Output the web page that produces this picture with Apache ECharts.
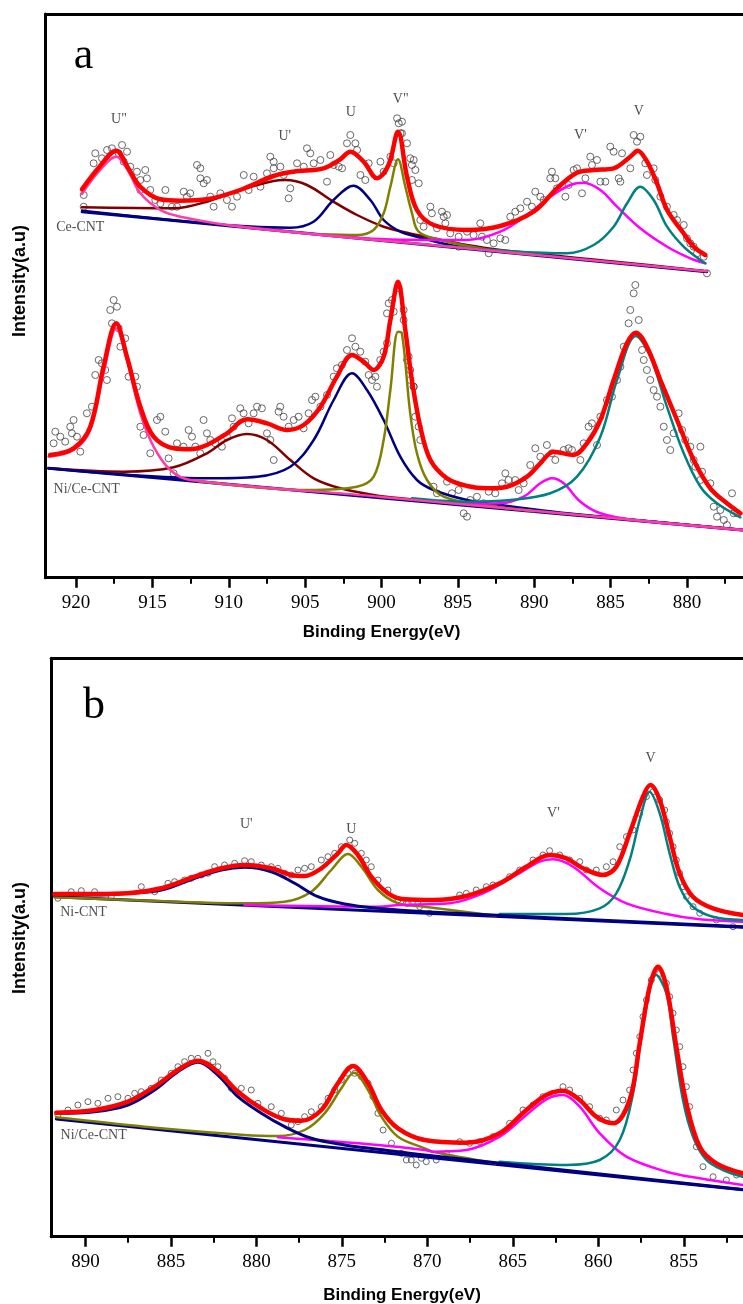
<!DOCTYPE html>
<html><head><meta charset="utf-8">
<script src="https://cdn.jsdelivr.net/npm/echarts@6/dist/echarts.min.js"></script>
<style>html,body{margin:0;padding:0;background:#fff}#c{width:743px;height:1304px}</style>
</head><body><div id="c"></div>
<script>
// ---------- tick labels ----------
const ticksA = [920, 915, 910, 905, 900, 895, 890, 885, 880];
const minorTicksA = [917.5, 912.5, 907.5, 902.5, 897.5, 892.5, 887.5, 882.5, 877.5];
const ticksB = [890, 885, 880, 875, 870, 865, 860, 855];
const minorTicksB = [887.5, 882.5, 877.5, 872.5, 867.5, 862.5, 857.5, 852.5];

// ---------- panel a : Ce-CNT (Ce 3d) ----------
const aCePts = [[919.50,382.7],[919.50,371.0],[918.74,424.4],[918.85,414.4],[918.30,419.4],[917.97,427.7],[917.65,429.4],[916.99,432.7],[917.21,424.4],[916.66,426.0],[916.88,416.0],[916.45,411.0],[916.01,406.0],[915.79,397.7],[915.47,407.7],[915.36,399.4],[915.79,387.7],[915.14,387.7],[914.81,377.7],[914.48,374.4],[914.15,387.7],[913.72,371.0],[913.39,371.0],[912.95,386.0],[912.74,381.0],[912.52,384.4],[912.08,412.7],[911.86,409.4],[911.86,399.4],[911.64,394.4],[911.43,397.7],[911.21,381.0],[910.99,371.0],[910.55,384.4],[910.12,377.7],[909.79,371.0],[909.46,381.0],[909.02,402.7],[908.70,387.7],[908.37,401.0],[907.93,391.0],[907.50,404.4],[907.28,421.0],[907.06,416.0],[907.06,409.4],[906.62,411.0],[906.40,402.7],[906.08,379.4],[905.97,389.4],[905.53,414.4],[905.09,411.0],[904.88,429.4],[904.66,424.4],[904.44,414.4],[904.00,417.7],[903.57,396.0],[903.35,422.7],[903.13,412.7],[902.80,411.0],[902.58,409.4],[902.26,434.4],[902.04,442.7],[901.71,434.4],[901.60,427.7],[901.38,402.7],[901.06,397.7],[900.84,414.4],[900.07,416.0],[899.86,406.0],[899.42,421.0],[899.20,414.4],[898.98,459.4],[898.87,454.4],[898.76,444.4],[898.33,434.4],[897.89,417.7],[897.78,407.7],[897.56,394.4],
[898.66,456.0],[898.66,444.4],[898.12,419.4],[898.01,412.7],[898.01,397.7],[897.46,357.7],[897.24,351.0],[896.80,371.0],[896.70,364.4],[896.37,349.4],[896.04,366.0],[895.93,361.0],[895.71,362.7],[895.82,354.4],[895.50,344.4],[894.95,341.0],[894.95,331.0],[894.40,346.0],[893.97,342.7],[893.53,354.4],[893.42,341.0],[893.10,337.7],[892.98,324.4],[892.66,334.4],[892.22,339.4],[891.89,337.7],[891.57,361.0],[891.24,366.0],[890.91,369.4],[890.47,376.0],[890.15,371.0],[889.93,386.0],[889.60,381.0],[889.38,377.7],[888.95,399.4],[888.84,406.0],[888.62,399.4],[888.51,389.4],[887.96,381.0],[887.75,392.7],[887.42,407.7],[887.20,409.4],[886.87,384.4],[886.65,399.4],[886.33,421.0],[886.22,412.7],[885.89,417.7],[885.67,396.0],[885.34,396.0],[885.02,431.0],[884.80,426.0],[884.47,399.4],[884.36,396.0],[884.25,424.4],[883.71,409.4],[883.49,442.7],[883.27,436.0],[883.05,441.0],[882.73,414.4],[882.62,402.7],[882.18,409.4],[882.07,397.7],[881.74,381.0],[881.31,371.0],[880.87,362.7],[880.65,357.7],[880.21,352.7],[880.00,339.4],[879.78,334.4],[879.56,331.0],[879.34,324.4],[878.90,321.0],[878.69,304.4]];
const aCeFit = [[919.61,388.4],[918.52,410.0],[917.37,427.0],[916.60,410.0],[915.80,391.0],[914.49,378.4],[913.18,377.0],[911.43,378.4],[909.25,387.7],[907.07,401.7],[905.76,406.0],[903.79,409.4],[902.70,418.4],[902.04,426.0],[901.17,416.0],[900.29,399.4],[899.54,412.7],[898.92,446.0],[898.33,401.0],[897.68,367.7],[896.59,352.7],[894.40,347.7],[892.22,351.7],[890.04,366.0],[888.51,389.4],[887.20,405.0],[886.11,407.7],[884.80,409.4],[883.71,421.0],[883.23,427.0],[882.61,416.0],[881.96,394.4],[881.30,367.7],[880.22,344.4],[879.56,331.0],[878.80,322.7]];
const aCeBase = [[919.6,366.0],[878.7,306.0]];
const aCeU2 = [[919.61,383.7],[918.52,406.0],[917.37,421.0],[916.56,406.0],[915.79,384.4],[914.48,367.7],[913.17,361.0],[909.24,351.0],[895.0,330.2],[878.7,306.5]];
const aCeU1 = [[919.61,370.4],[913.61,369.4],[911.43,376.0],[909.25,387.7],[907.07,396.7],[906.30,397.7],[904.88,392.7],[903.14,376.0],[901.60,362.7],[899.86,351.0],[898.33,345.0],[896.59,339.4],[894.40,332.7],[892.22,327.7],[885.0,316.5],[878.69,306.5]];
const aCeU = [[919.6,367.0],[910.0,352.5],[905.98,350.0],[904.45,356.0],[903.14,377.7],[901.83,392.0],[900.73,377.7],[899.86,357.7],[898.77,346.0],[897.68,341.0],[895.50,332.7],[892.22,326.7],[878.7,306.3]];
const aCeV2 = [[904.0,343.5],[901.60,342.7],[900.52,347.7],[899.86,364.4],[899.42,391.0],[898.92,418.4],[898.44,391.0],[898.00,364.4],[897.57,346.0],[896.15,337.7],[893.0,328.0],[890.0,323.0]];
const aCeV1 = [[910.0,352.8],[898.77,338.0],[894.40,337.7],[892.22,346.0],[890.47,362.7],[888.95,381.0],[887.64,392.7],[886.77,395.0],[885.67,387.7],[884.58,371.0],[883.06,349.4],[881.30,331.0],[879.78,319.4],[878.80,314.4]];
const aCeV = [[896.0,332.0],[891.5,326.5],[887.85,324.4],[886.11,332.7],[884.80,351.0],[883.92,374.4],[883.06,391.0],[882.18,377.7],[881.30,351.0],[880.22,331.0],[879.13,317.7],[878.80,314.4]];

// ---------- panel a : Ni/Ce-CNT (Ce 3d) ----------
const aNiPts = [[921.36,146.0],[921.47,134.4],[921.03,141.0],[920.71,136.0],[920.38,151.0],[920.16,157.7],[920.27,144.4],[919.94,141.0],[919.72,126.0],[919.29,164.4],[918.96,171.0],[918.74,202.7],[918.52,217.7],[918.31,214.4],[918.09,207.7],[917.98,197.7],[917.76,267.7],[917.54,277.7],[917.32,271.0],[917.65,254.4],[917.21,249.4],[917.10,231.0],[916.78,239.4],[916.56,201.0],[916.12,201.0],[916.01,191.0],[915.79,151.0],[915.58,142.7],[915.14,124.4],[914.70,157.7],[914.48,161.0],[914.16,146.0],[913.94,119.4],[913.61,104.4],[913.39,134.4],[912.96,131.0],[912.63,147.7],[912.41,141.0],[912.19,131.0],[911.87,124.4],[911.65,157.7],[911.43,144.4],[911.21,137.7],[910.88,134.4],[910.45,131.0],[910.12,141.0],[909.79,159.4],[909.68,151.0],[909.25,169.4],[909.03,164.4],[908.70,154.4],[908.37,164.4],[908.15,171.0],[907.83,169.4],[907.50,144.4],[907.28,137.7],[907.06,117.7],[906.74,166.0],[906.63,171.0],[906.41,161.0],[906.08,151.0],[905.75,157.7],[905.43,161.0],[905.10,149.4],[904.77,164.4],[904.55,177.7],[904.33,181.0],[904.00,171.0],[903.57,182.7],[903.13,201.0],[902.92,209.4],[902.59,212.7],[902.26,227.7],[901.93,239.4],[901.71,231.0],[901.39,226.0],[901.06,216.0],[900.84,202.7],[900.62,197.7],[900.40,201.0],[900.30,191.0],[900.08,217.7],[899.86,226.0],[899.64,234.4],[899.64,264.4],[899.53,274.4],[899.31,277.7],[899.20,266.0],[898.88,289.4],[898.55,257.7],[898.33,217.7],[898.11,197.7],[897.89,191.0],
[898.55,267.7],[898.22,221.0],[898.12,207.7],[897.90,191.0],[897.79,161.0],[897.57,151.0],[897.46,137.7],[896.59,91.0],[896.37,84.4],[895.71,96.0],[895.39,84.4],[894.95,87.7],[894.62,64.4],[894.40,61.0],[894.19,77.7],[893.75,81.0],[893.31,74.4],[892.98,86.0],[892.55,84.4],[892.11,94.4],[891.89,104.4],[891.68,97.7],[891.24,97.7],[891.02,87.7],[890.69,94.4],[890.26,112.7],[889.93,129.4],[889.60,121.0],[889.17,132.7],[888.84,124.4],[888.62,117.7],[888.07,127.7],[887.75,129.4],[887.53,127.7],[886.98,117.7],[886.76,134.4],[886.44,151.0],[886.22,154.4],[885.89,132.7],[885.67,161.0],[885.24,177.7],[884.91,181.0],[884.58,197.7],[884.36,211.0],[884.14,231.0],[883.82,254.4],[883.71,267.7],[883.49,284.4],[883.38,292.7],[883.16,257.7],[882.94,227.7],[882.83,217.7],[882.62,207.7],[882.40,197.7],[882.18,187.7],[881.96,181.0],[881.74,171.0],[881.52,151.0],[881.31,137.7],[881.09,127.7],[880.87,144.4],[880.54,164.4],[880.32,147.7],[880.11,137.7],[879.78,131.0],[879.56,117.7],[879.12,131.0],[879.01,106.0],[879.45,111.0],[879.12,97.7],[878.47,94.4],[878.25,71.0],[878.03,61.0],[877.81,67.7],[877.59,57.7],[877.38,52.7],[877.05,84.4],[876.94,64.4],[876.72,64.4]];
const aNiFit = [[921.70,122.7],[920.16,129.4],[919.07,151.0],[918.20,211.0],[917.37,254.4],[916.67,221.0],[915.79,171.0],[914.92,141.0],[913.61,129.4],[912.52,128.4],[911.43,132.7],[910.12,144.4],[908.81,158.4],[907.50,154.4],[906.19,147.7],[905.10,152.7],[903.99,171.0],[902.92,201.0],[901.93,222.7],[901.17,216.0],[900.51,207.7],[899.86,221.0],[899.42,257.7],[898.92,296.0],[898.44,247.7],[898.01,197.7],[897.46,151.0],[896.80,117.7],[895.71,99.4],[894.40,91.7],[893.09,89.4],[891.78,91.0],[890.47,101.0],[889.60,114.4],[888.73,126.0],[887.42,122.7],[886.55,134.4],[885.67,157.7],[884.80,197.7],[883.93,234.4],[883.34,245.0],[882.62,231.0],[881.74,197.7],[880.65,157.7],[879.56,117.7],[878.47,89.4],[877.38,74.4],[876.50,64.4]];
const aNiBase = [[921.8,109.4],[876.4,47.7]];
const aNiU2 = [[921.80,121.0],[920.16,127.7],[919.07,147.7],[918.20,204.4],[917.37,249.4],[916.67,217.7],[915.79,164.4],[914.92,131.0],[913.83,107.7],[912.52,97.7],[900.0,80.8],[876.4,47.7]];
const aNiU1 = [[921.80,109.4],[916.89,106.0],[913.61,110.4],[911.43,124.4],[910.12,137.7],[908.81,143.7],[907.50,137.7],[905.97,117.7],[904.44,99.4],[902.69,89.4],[900.51,82.7],[898.77,79.4],[876.4,48.0]];
const aNiU = [[921.80,109.4],[911.43,99.4],[908.15,101.0],[905.97,111.0],[904.44,137.7],[903.13,177.7],[901.93,204.4],[900.95,187.7],[899.86,157.7],[898.77,121.0],[897.68,97.7],[896.59,87.7],[894.40,77.7],[892.22,72.7],[887.86,64.4],[876.4,47.7]];
const aNiV2 = [[912.0,96.5],[904.88,87.7],[901.61,91.0],[900.51,101.0],[899.86,137.7],[899.42,187.7],[898.92,246.0],[898.66,244.4],[898.12,164.4],[897.68,124.4],[897.02,97.7],[895.93,81.0],[893.31,72.7],[890.0,66.5]];
const aNiV1 = [[895.0,74.0],[892.22,74.4],[890.69,81.0],[889.60,94.4],[888.84,99.4],[888.07,94.4],[886.98,76.0],[885.67,64.4],[883.49,57.7],[876.4,48.0]];
const aNiV = [[898.0,79.5],[894.40,76.0],[891.57,77.7],[888.95,84.4],[887.20,101.0],[885.67,141.0],[884.58,197.7],[883.34,241.7],[882.40,221.0],[881.31,171.0],[880.21,124.4],[879.12,91.0],[878.03,74.4],[876.50,60.4]];

// ---------- panel b : Ni-CNT (Ni 2p) ----------
const bNiPts = [[891.61,338.4],[890.83,345.0],[890.24,346.0],[889.46,345.0],[888.49,340.0],[886.73,350.0],[885.95,345.0],[885.17,353.4],[884.78,355.0],[884.20,356.7],[883.81,358.4],[883.22,361.7],[882.83,363.4],[882.44,370.0],[881.86,371.7],[881.27,373.4],[880.69,376.0],[880.30,375.0],[879.71,371.7],[879.13,370.0],[878.74,368.4],[878.35,363.4],[877.96,361.7],[877.57,366.7],[877.18,368.4],[876.79,370.0],[876.20,376.7],[875.81,380.0],[875.42,383.4],[875.03,390.0],[874.54,396.7],[874.25,393.4],[873.86,383.4],[873.57,376.7],[873.28,370.0],[872.89,356.7],[872.30,346.7],[871.72,336.7],[871.13,333.4],[870.55,333.4],
[871.23,333.4],[870.45,330.0],[869.87,323.4],[868.11,341.7],[867.72,343.4],[867.14,346.7],[866.55,350.0],[866.16,351.7],[865.19,360.0],[864.60,366.7],[863.82,376.7],[863.24,381.7],[862.85,386.0],[862.26,381.7],[861.68,376.7],[861.09,375.0],[860.70,366.7],[860.12,366.7],[859.53,370.0],[859.14,375.0],[858.75,390.0],[858.36,400.0],[857.97,406.7],[857.58,423.4],[857.19,440.0],[856.80,445.0],[856.41,436.7],[856.12,426.7],[856.02,415.0],[855.83,403.4],[855.63,390.0],[855.44,376.7],[855.24,363.4],[855.05,350.0],[854.85,340.0],[854.46,330.0],[854.07,323.4],[853.10,316.7],[852.12,310.0]];
const bNiFit = [[891.80,342.7],[889.46,342.7],[887.51,343.4],[885.56,348.4],[883.61,360.0],[882.05,368.4],[880.69,371.7],[879.13,368.4],[877.96,361.7],[877.18,360.7],[876.20,368.4],[875.23,383.4],[874.74,391.7],[874.06,381.7],[873.28,360.0],[872.30,343.4],[871.33,337.4],[869.67,336.7],[867.72,340.7],[865.77,353.4],[864.21,370.0],[862.85,381.7],[861.87,378.4],[860.90,368.4],[859.73,361.7],[858.95,370.0],[858.17,403.4],[857.39,440.0],[856.96,451.7],[856.41,436.7],[855.83,400.0],[855.25,363.4],[854.47,340.0],[853.30,328.4],[851.56,321.7]];
const bNiBase = [[891.8,340.0],[851.56,309.5]];
const bNiU1 = [[891.80,341.7],[889.46,341.7],[887.51,343.4],[885.56,346.7],[883.61,358.4],[882.05,366.7],[880.69,369.4],[879.13,365.0],[877.76,353.4],[876.40,340.0],[874.84,332.7],[872.89,328.4],[870.16,325.0],[851.56,310.0]];
const bNiU = [[891.80,339.4],[884.59,335.0],[880.69,333.4],[878.35,335.0],[876.79,345.0],[875.62,366.7],[874.64,382.7],[873.86,370.0],[872.89,346.7],[871.72,333.4],[870.16,330.0],[866.0,321.0]];
const bNiV1 = [[880.69,331.7],[872.89,330.0],[871.62,331.7],[868.70,333.4],[866.75,343.4],[864.80,361.7],[863.43,375.0],[862.65,377.4],[861.48,370.0],[859.92,348.4],[858.36,333.4],[856.02,322.7],[854.07,317.4],[851.56,315.0]];
const bNiV = [[865.77,322.7],[861.87,322.7],[859.92,328.4],[858.95,343.4],[858.17,376.7],[857.58,416.7],[857.00,445.0],[856.41,423.4],[855.83,383.4],[855.25,350.0],[854.47,330.0],[853.30,320.0],[851.56,316.7]];

// ---------- panel b : Ni/Ce-CNT (Ni 2p) ----------
const bCePts = [[891.61,121.7],[891.02,126.7],[890.44,131.7],[889.85,135.0],[889.27,133.4],[888.68,138.4],[888.10,140.0],[887.51,138.4],[887.12,143.4],[886.73,145.0],[886.15,148.4],[885.56,156.7],[884.98,163.4],[884.59,170.0],[884.20,175.0],[883.81,178.4],[883.42,178.4],[882.83,183.4],[882.54,175.0],[882.25,170.0],[881.86,158.4],[881.47,148.4],[880.88,148.4],[880.30,146.7],[879.91,133.4],[879.13,130.0],[878.54,123.4],[877.96,111.7],[877.57,115.0],[877.18,120.0],[876.79,125.0],[876.20,130.0],[875.81,138.4],[875.42,146.7],[875.03,156.7],[874.64,163.4],[874.25,163.4],[873.86,160.0],[873.47,153.4],[873.18,140.0],[872.89,123.4],[872.59,106.7],[872.10,93.4],[871.52,83.4],[870.94,76.7],[870.35,78.4],
[871.23,76.7],[870.65,71.7],[870.06,75.0],[869.48,76.7],[868.89,83.4],[868.11,95.0],[867.53,93.4],[866.94,95.0],[866.16,100.0],[865.19,113.4],[864.41,126.7],[863.82,131.7],[863.24,140.0],[862.65,143.4],[862.07,150.0],[861.68,146.7],[861.09,138.4],[860.51,130.0],[859.92,118.4],[859.53,116.7],[858.95,126.7],[858.56,136.7],[858.17,146.7],[857.97,166.7],[857.78,183.4],[857.58,200.0],[857.39,220.0],[857.19,236.7],[856.90,256.7],[856.41,263.4],[856.02,253.4],[855.83,240.0],[855.63,223.4],[855.44,206.7],[855.24,190.0],[855.05,170.0],[854.85,150.0],[854.66,130.0],[854.27,90.0],[853.88,70.0],[853.29,60.0],[852.51,56.7],[851.92,61.7]];
const bCeFit = [[891.70,124.0],[889.46,126.7],[887.51,135.0],[885.95,150.0],[884.59,166.7],[883.42,176.0],[882.25,165.0],[881.08,145.0],[879.71,128.4],[878.35,117.4],[877.37,116.0],[876.20,126.7],[875.23,153.4],[874.35,170.7],[873.47,153.4],[872.69,126.7],[871.72,108.4],[870.16,96.7],[867.72,94.0],[865.77,103.4],[864.21,126.7],[863.04,141.7],[862.07,146.0],[861.09,136.7],[860.12,120.0],[859.14,113.4],[858.17,136.7],[857.58,193.4],[857.00,250.0],[856.51,270.0],[856.02,250.0],[855.44,190.0],[854.85,133.4],[854.07,90.0],[853.10,73.4],[851.56,63.4]];
const bCeBase = [[891.7,117.7],[851.56,47.0]];
const bCeU1 = [[891.70,123.4],[889.46,125.0],[887.51,131.7],[885.95,146.7],[884.59,165.0],[883.42,174.4],[882.25,161.7],[881.08,140.0],[879.71,123.4],[878.35,110.0],[876.79,98.4],[874.84,91.7],[872.89,87.4],[870.16,81.7],[851.56,47.3]];
const bCeU = [[891.70,119.4],[886.54,110.0],[880.69,101.7],[878.74,100.7],[877.18,106.7],[876.01,123.4],[875.03,148.4],[874.29,164.0],[873.47,146.7],[872.69,120.0],[871.72,100.0],[870.16,88.4],[869.67,85.0],[866.0,73.5]];
const bCeV1 = [[878.74,99.4],[872.89,91.7],[870.16,86.7],[869.67,85.0],[867.72,86.7],[865.77,100.0],[864.21,121.7],[863.04,137.4],[862.07,141.7],[861.09,130.0],[859.92,103.4],[858.36,80.0],[856.02,65.0],[854.07,58.4],[851.56,51.7]];
const bCeV = [[865.77,75.0],[861.87,71.7],[859.92,76.7],[858.75,96.7],[857.97,143.4],[857.39,210.0],[856.61,261.7],[856.02,243.4],[855.63,200.0],[855.05,136.7],[854.46,100.0],[853.68,76.7],[852.71,66.7],[851.56,60.0]];

// ---------- annotations (text + anchor in data units) ----------
const peakNamesA = ['U"', "U'", 'U', 'V"', "V'", 'V'];
const peakAnchorsA = [[917.19,458.7],[906.33,441.7],[902.01,465.7],[898.74,478.2],[886.98,442.7],[883.16,466.4]];
const sampleNamesA = ['Ce-CNT', 'Ni/Ce-CNT'];
const sampleAnchorsA = [[921.30,350.7],[921.47,88.2]];
const peakNamesB = ["U'", 'U', "V'", 'V'];
const peakAnchorsB = [[880.59,412.7],[874.45,407.7],[862.63,423.4],[856.94,478.4]];
const sampleNamesB = ['Ni-CNT', 'Ni/Ce-CNT'];
const sampleAnchorsB = [[891.47,324.2],[891.45,101.7]];

// ---------- styling ----------
const SERIF = "'Liberation Serif','Times New Roman',serif";
const SANS = "'Liberation Sans',Arial,sans-serif";
const C = { fit:'#ff0000', pink:'#ff3ca8', maroon:'#800000', navy:'#000080', olive:'#808000', magenta:'#ff00ff', teal:'#008080', base:'#000080' };
const FRAME = { show:true, onZero:false, lineStyle:{ color:'#000', width:3 } };

function line(data, axis, color, width, z) {
  return { type:'line', xAxisIndex:axis, yAxisIndex:axis, data, showSymbol:false, symbol:'none',
    smooth:0.35, lineStyle:{ color, width, cap:'round', join:'round' }, z, silent:true, animation:false };
}
function pts(data, axis, size) {
  return { type:'scatter', xAxisIndex:axis, yAxisIndex:axis, data, symbol:'circle', symbolSize:size,
    itemStyle:{ color:'rgba(0,0,0,0)', borderColor:'#444', borderWidth:1 }, z:1, silent:true, animation:false };
}
function labels(names, anchors, axis, pos, fs) {
  return { type:'scatter', xAxisIndex:axis, yAxisIndex:axis, symbolSize:0, silent:true, animation:false, z:20,
    data: names.map((n,i)=>({ name:n, value:anchors[i] })),
    label:{ show:true, position:pos, distance:0, formatter:p=>p.name, fontFamily:SERIF, fontSize:fs, color:'#222' } };
}
function xMain(grid, min, max, ticks) {
  return { type:'value', gridIndex:grid, min, max, inverse:true, position:'bottom',
    axisLine:FRAME, splitLine:{ show:false },
    axisTick:{ show:true, customValues:ticks, length:10, lineStyle:{ color:'#000', width:2.5 } },
    axisLabel:{ show:true, customValues:ticks, margin:16, fontFamily:SERIF, fontSize:19, color:'#000' } };
}
function xMinor(grid, min, max, ticks) {
  return { type:'value', gridIndex:grid, min, max, inverse:true, position:'bottom',
    axisLine:{ show:false }, splitLine:{ show:false },
    axisTick:{ show:true, customValues:ticks, length:6, lineStyle:{ color:'#000', width:2 } },
    axisLabel:{ show:false } };
}
function xTop(grid, min, max) {
  return { type:'value', gridIndex:grid, min, max, inverse:true, position:'top',
    axisLine:FRAME, axisTick:{ show:false }, axisLabel:{ show:false }, splitLine:{ show:false } };
}
function yAx(grid, max, frame) {
  return { type:'value', gridIndex:grid, min:0, max, show:true, position:'left',
    axisLine: frame ? FRAME : { show:false }, axisTick:{ show:false }, axisLabel:{ show:false }, splitLine:{ show:false } };
}

// plot rectangles; right edge of each frame is the page edge
const gA = { left:45.5, top:14, right:0, height:563.7 };
const gB = { left:51.2, top:658.3, right:0, height:578.4 };
const xRangeA = [876.33, 922];
const xRangeB = [851.54, 892];

const option = {
  animation:false,
  backgroundColor:'#fff',
  grid:[ Object.assign({ show:false }, gA), Object.assign({ show:false }, gA), Object.assign({ show:false }, gB), Object.assign({ show:false }, gB) ],
  xAxis:[ xMain(0,xRangeA[0],xRangeA[1],ticksA), xMinor(1,xRangeA[0],xRangeA[1],minorTicksA),
          xMain(2,xRangeB[0],xRangeB[1],ticksB), xMinor(3,xRangeB[0],xRangeB[1],minorTicksB),
          xTop(0,xRangeA[0],xRangeA[1]), xTop(2,xRangeB[0],xRangeB[1]) ],
  yAxis:[ yAx(0,563.7,true), yAx(1,563.7,false), yAx(2,578.4,true), yAx(3,578.4,false) ],
  series:[
    pts(aCePts,0,7), pts(aNiPts,0,7),
    line(aCeBase,0,C.base,3,3), line(aCeU1,0,C.maroon,2.5,4), line(aCeU,0,C.navy,2.5,4), line(aCeV2,0,C.olive,2.5,4),
    line(aCeV1,0,C.magenta,2.5,4), line(aCeV,0,C.teal,2.5,4), line(aCeU2,0,C.pink,2.5,5), line(aCeFit,0,C.fit,4.5,8),
    line(aNiBase,0,C.base,3,3), line(aNiU1,0,C.maroon,2.5,4), line(aNiU,0,C.navy,2.5,4), line(aNiV2,0,C.olive,2.5,4),
    line(aNiV1,0,C.magenta,2.5,4), line(aNiV,0,C.teal,2.5,4), line(aNiU2,0,C.pink,2.5,5), line(aNiFit,0,C.fit,4.5,8),
    pts(bNiPts,2,6), pts(bCePts,2,6),
    line(bNiBase,2,C.base,3,3), line(bNiU,2,C.olive,2.5,4), line(bNiV1,2,C.magenta,2.5,4), line(bNiV,2,C.teal,2.5,4),
    line(bNiU1,2,C.navy,3,5), line(bNiFit,2,C.fit,4.5,8),
    line(bCeBase,2,C.base,3,3), line(bCeU,2,C.olive,2.5,4), line(bCeV1,2,C.magenta,2.5,4), line(bCeV,2,C.teal,2.5,4),
    line(bCeU1,2,C.navy,3,5), line(bCeFit,2,C.fit,4.5,8),
    labels(peakNamesA, peakAnchorsA, 0, 'inside', 14), labels(sampleNamesA, sampleAnchorsA, 0, 'right', 14),
    labels(peakNamesB, peakAnchorsB, 2, 'inside', 14), labels(sampleNamesB, sampleAnchorsB, 2, 'right', 14)
  ],
  graphic:[
    { type:'text', x:83.5, y:56, style:{ text:'a', font:'44px '+SERIF, fill:'#000', align:'center', verticalAlign:'middle', textAlign:'center', textVerticalAlign:'middle' } },
    { type:'text', x:94, y:706, style:{ text:'b', font:'44px '+SERIF, fill:'#000', align:'center', verticalAlign:'middle', textAlign:'center', textVerticalAlign:'middle' } },
    { type:'text', x:381.5, y:632, style:{ text:'Binding Energy(eV)', font:'bold 17px '+SANS, fill:'#000', align:'center', verticalAlign:'middle', textAlign:'center', textVerticalAlign:'middle' } },
    { type:'text', x:402, y:1295, style:{ text:'Binding Energy(eV)', font:'bold 17px '+SANS, fill:'#000', align:'center', verticalAlign:'middle', textAlign:'center', textVerticalAlign:'middle' } },
    { type:'text', x:20, y:281, rotation:Math.PI/2, style:{ text:'Intensity(a.u)', font:'bold 18px '+SANS, fill:'#000', align:'center', verticalAlign:'middle', textAlign:'center', textVerticalAlign:'middle' } },
    { type:'text', x:20, y:938, rotation:Math.PI/2, style:{ text:'Intensity(a.u)', font:'bold 18px '+SANS, fill:'#000', align:'center', verticalAlign:'middle', textAlign:'center', textVerticalAlign:'middle' } }
  ]
};
const chart = echarts.init(document.getElementById('c'), null, { renderer:'canvas' });
chart.setOption(option);
</script></body></html>
